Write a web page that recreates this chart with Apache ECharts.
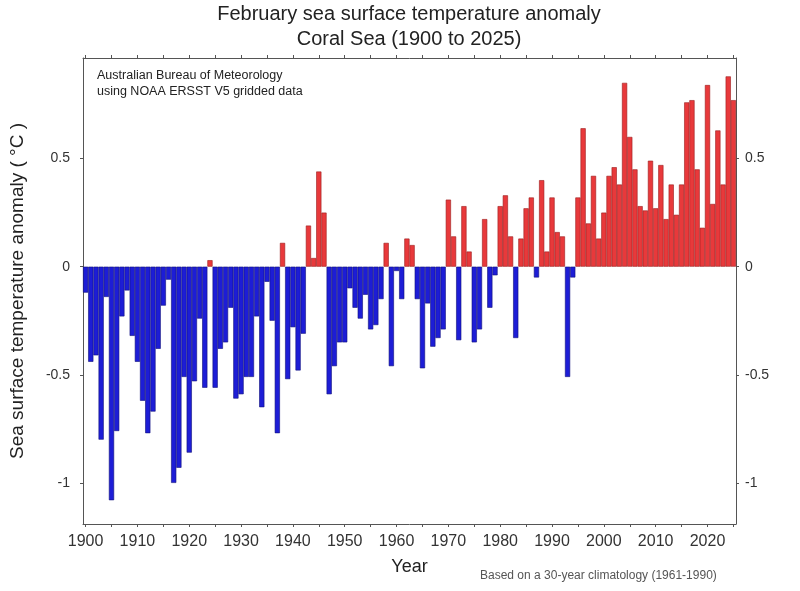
<!DOCTYPE html>
<html>
<head>
<meta charset="utf-8">
<title>February SST anomaly - Coral Sea</title>
<script src="https://cdn.jsdelivr.net/npm/echarts/dist/echarts.min.js"></script>
<style>
	html,body{margin:0;padding:0;background:#fff;}
	#chart{width:800px;height:591px;}
</style>
</head>
<body>
<div id="chart"></div>
<script>
// values, one per year 1900..2025 (degrees C)
var firstYear = 1900;
var lastYear = 2025;
var anomaly = [
	-0.12,-0.44,-0.41,-0.80,-0.14,-1.08,-0.76,-0.23,-0.11,-0.32,
	-0.44,-0.62,-0.77,-0.67,-0.38,-0.18,-0.06,-1.00,-0.93,-0.51,
	-0.86,-0.53,-0.24,-0.56, 0.03,-0.56,-0.38,-0.35,-0.19,-0.61,
	-0.59,-0.51,-0.51,-0.23,-0.65,-0.07,-0.25,-0.77, 0.11,-0.52,
	-0.28,-0.48,-0.31, 0.19, 0.04, 0.44, 0.25,-0.59,-0.46,-0.35,
	-0.35,-0.10,-0.19,-0.24,-0.13,-0.29,-0.27,-0.15, 0.11,-0.46,
	-0.02,-0.15, 0.13, 0.10,-0.15,-0.47,-0.17,-0.37,-0.33,-0.29,
	 0.31, 0.14,-0.34, 0.28, 0.07,-0.35,-0.29, 0.22,-0.19,-0.04,
	 0.28, 0.33, 0.14,-0.33, 0.13, 0.27, 0.32,-0.05, 0.40, 0.07,
	 0.32, 0.16, 0.14,-0.51,-0.05, 0.32, 0.64, 0.20, 0.42, 0.13,
	 0.25, 0.42, 0.46, 0.38, 0.85, 0.60, 0.45, 0.28, 0.26, 0.49,
	 0.27, 0.47, 0.22, 0.38, 0.24, 0.38, 0.76, 0.77, 0.45, 0.18,
	 0.84, 0.29, 0.63, 0.38, 0.88, 0.77
];
var yTicks = [-1, -0.5, 0, 0.5];

var years = [];
for(var y=firstYear;y<=lastYear;y++){
	years.push(String(y));
}

var font = "Liberation Sans";
var axisColor = "#555";

var barData = [];
for(var i=0;i<anomaly.length;i++){
	var v = anomaly[i];
	barData.push({
		value: v,
		itemStyle: v >= 0
			? {color:"#e8393b", borderColor:"#9a1c1c", borderWidth:0.6}
			: {color:"#1d1dd6", borderColor:"#10107a", borderWidth:0.6}
	});
}

var myChart = echarts.init(document.getElementById('chart'));
var option = {
	animation: false,
	backgroundColor: "#fff",
	textStyle: {fontFamily: font},
	title: {
		text: "February sea surface temperature anomaly\nCoral Sea (1900 to 2025)",
		left: 404,
		top: -3,
		textAlign: "center",
		textStyle: {
			fontFamily: font,
			fontSize: 20,
			fontWeight: "normal",
			color: "#222",
			lineHeight: 25
		}
	},
	grid: {
		left: 80,
		right: 64,
		top: 58,
		bottom: 67
	},
	xAxis: [{
		type: "category",
		data: years,
		position: "bottom",
		boundaryGap: true,
		name: "Year",
		nameLocation: "middle",
		nameGap: 34,
		nameTextStyle: {fontFamily: font, fontSize: 18, color: "#222"},
		axisLine: {onZero: false, lineStyle: {color: axisColor, width: 1}},
		axisTick: {show: true, interval: 4, alignWithLabel: true, length: 3, lineStyle: {color: axisColor}},
		axisLabel: {interval: 9, fontSize: 16, color: "#333", margin: 10, fontFamily: font},
		splitLine: {show: false}
	},{
		type: "category",
		data: years,
		position: "top",
		boundaryGap: true,
		axisLine: {onZero: false, lineStyle: {color: axisColor, width: 1}},
		axisTick: {show: true, interval: 4, alignWithLabel: true, length: 3, lineStyle: {color: axisColor}},
		axisLabel: {show: false},
		splitLine: {show: false}
	}],
	yAxis: [{
		type: "value",
		min: -1.19,
		max: 0.965,
		position: "left",
		name: "Sea surface temperature anomaly ( °C )",
		nameLocation: "middle",
		nameGap: 56,
		nameTextStyle: {fontFamily: font, fontSize: 19, color: "#222"},
		axisLine: {show: true, onZero: false, lineStyle: {color: axisColor, width: 1}},
		axisTick: {show: true, customValues: yTicks, length: 3, lineStyle: {color: axisColor}},
		axisLabel: {customValues: yTicks, fontSize: 14, color: "#333", margin: 13, fontFamily: font},
		splitLine: {show: false}
	},{
		type: "value",
		min: -1.19,
		max: 0.965,
		position: "right",
		axisLine: {show: true, onZero: false, lineStyle: {color: axisColor, width: 1}},
		axisTick: {show: true, customValues: yTicks, length: 3, lineStyle: {color: axisColor}},
		axisLabel: {customValues: yTicks, fontSize: 14, color: "#333", margin: 9, fontFamily: font},
		splitLine: {show: false}
	}],
	graphic: [{
		type: "text",
		left: 97,
		top: 68,
		style: {
			text: "Australian Bureau of Meteorology\nusing NOAA ERSST V5 gridded data",
			font: "12.5px " + font,
			fill: "#222",
			lineHeight: 16
		}
	},{
		type: "text",
		left: 480,
		top: 570,
		style: {
			text: "Based on a 30-year climatology (1961-1990)",
			font: "12px " + font,
			fill: "#555"
		}
	}],
	series: [{
		name: "anomaly",
		type: "bar",
		xAxisIndex: 0,
		yAxisIndex: 0,
		barCategoryGap: "0%",
		data: barData
	}]
};
myChart.setOption(option);
</script>
</body>
</html>
